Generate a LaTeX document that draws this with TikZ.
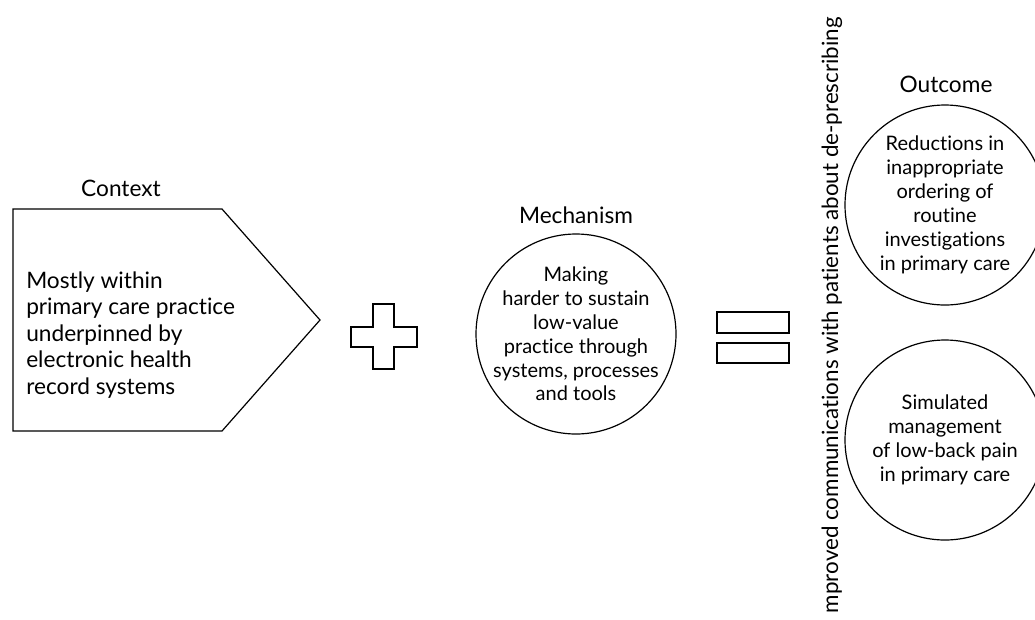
\documentclass[tikz,border=0pt]{standalone}
\usepackage{fontspec}
\setmainfont{Lato}[Ligatures=NoCommon]
\usetikzlibrary{positioning}

\begin{document}
\begin{tikzpicture}[x=0.75pt,y=-0.75pt,
    every node/.style={inner sep=0pt},
    shape line/.style={draw, line width=0.9pt},
    ring/.style={shape line, circle, minimum size=150pt},
    heading/.style={font=\fontsize{17}{20}\selectfont},
    bodytext/.style={font=\fontsize{17}{19.9}\selectfont, align=left},
    ringtext/.style={font=\fontsize{15}{17.9}\selectfont, align=center}]
  \path[use as bounding box, clip] (0,0) rectangle (1035,619);

  % context
  \draw[shape line] (13,209) -- (222,209) -- (320,320) -- (222,431) -- (13,431) -- cycle;
  \node[heading] (ctxlabel) at (121,188) {Context};
  \node[bodytext, anchor=west] (ctx) at (26,335)
    {Mostly within\\primary care practice\\underpinned by\\electronic health\\record systems};

  % plus
  \draw[shape line] (373,304) -- (394,304) -- (394,327) -- (417,327) -- (417,347)
    -- (394,347) -- (394,369) -- (373,369) -- (373,347) -- (351,347) -- (351,327)
    -- (373,327) -- cycle;

  % mechanism
  \node[ring] (mech) at (576,334) {};
  \node[heading] (mechlabel) at (576,215) {Mechanism};
  \node[ringtext] (mechtext) at (mech)
    {Making\\harder to sustain\\low-value\\practice through\\systems, processes\\and tools};

  % equals
  \draw[shape line] (717,312) rectangle (789,333);
  \draw[shape line] (717,343) rectangle (789,363);

  % side note
  \node[font=\fontsize{16.8}{20}\selectfont, rotate=90, anchor=base east] (note) at (838,17)
    {mproved communications with patients about de-prescribing};

  % outcomes
  \node[heading] (outlabel) at (946,84) {Outcome};
  \node[ring] (out1) at (945,205) {};
  \node[ringtext] (out1text) at (out1)
    {Reductions in\\inappropriate\\ordering of\\routine\\investigations\\in primary care};
  \node[ring] (out2) at (945,440) {};
  \node[ringtext] (out2text) at (out2)
    {Simulated\\management\\of low-back pain\\in primary care};
\end{tikzpicture}
\end{document}
